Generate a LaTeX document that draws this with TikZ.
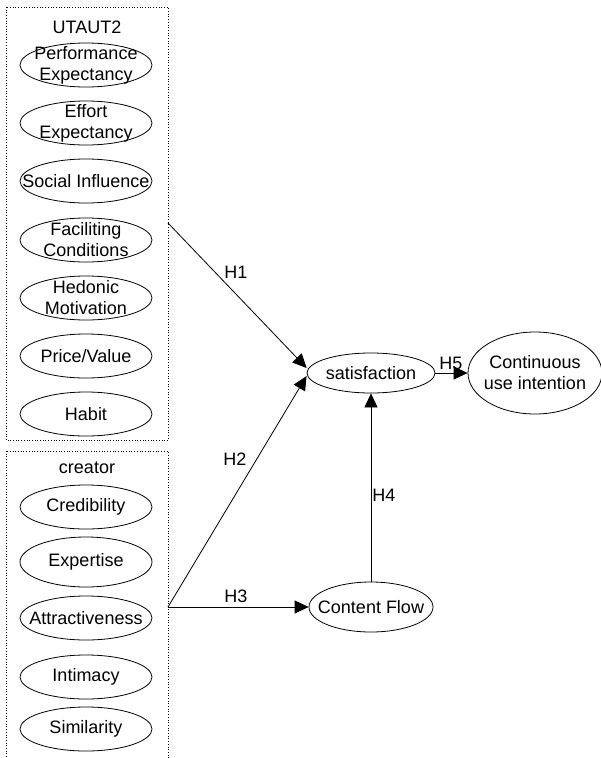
\documentclass[tikz,border=0pt]{standalone}
\usepackage{fontspec}
\setmainfont{Liberation Sans}
\usetikzlibrary{shapes.geometric}
\usetikzlibrary{arrows.meta}
\usetikzlibrary{positioning}

\tikzset{
	construct/.style={ellipse, draw, minimum width=132pt, minimum height=44pt,
		inner sep=-20pt, align=center},
	groupbox/.style={draw, dotted, line width=0.7pt},
	hyp/.style={-{Triangle[length=14pt,width=13pt]}},
}

\begin{document}
\begin{tikzpicture}[x=1pt, y=-1pt, line width=0.8pt,
		font=\fontsize{18}{21}\selectfont]
	\useasboundingbox (0,0) rectangle (601,758);
	% UTAUT2 group
	\draw[groupbox] (6,7) rectangle (168,440);
	\node (utaut) at (87,27) {UTAUT2};
	\node[construct] (pe) at (86,65) {Performance\\Expectancy};
	\node[construct] (ee) at (86,123) {Effort\\Expectancy};
	\node[construct] (si) at (86,181) {Social Influence};
	\node[construct] (fc) at (86,240) {Faciliting\\Conditions};
	\node[construct] (hm) at (86,298) {Hedonic\\Motivation};
	\node[construct] (pv) at (86,356) {Price/Value};
	\node[construct] (hb) at (86,414) {Habit};
	% creator group
	\draw[groupbox] (6,451) rectangle (168,780);
	\node (creator) at (87,468) {creator};
	\node[construct] (cred) at (86,507) {Credibility};
	\node[construct, minimum height=50pt] (exp) at (86,562) {Expertise};
	\node[construct] (attr) at (86,618) {Attractiveness};
	\node[construct] (inti) at (86,677) {Intimacy};
	\node[construct] (simi) at (86,729) {Similarity};
	% outcomes
	\node[construct, minimum width=128pt, minimum height=40pt] (sat) at (371,373) {satisfaction};
	\node[construct, minimum width=134pt, minimum height=82pt] (cui) at (535,373) {Continuous\\use intention};
	\node[construct, minimum width=124pt, minimum height=50pt] (cf) at (371,607) {Content Flow};
	% hypotheses
	\coordinate (h1s) at (168,223);
	\coordinate (h2s) at (168,607);
	\draw[hyp] (h1s) -- ([yshift=5pt]sat.west);
	\draw[hyp] (h2s) -- ([yshift=-3pt]sat.west);
	\draw[hyp] (h2s) -- (cf.west);
	\draw[hyp] (cf.north) -- (sat.south);
	\draw[hyp] (sat.east) -- (cui.west);
	\node (lh1) at (236,272) {H1};
	\node (lh2) at (235,459) {H2};
	\node (lh3) at (236,596) {H3};
	\node (lh4) at (384,495) {H4};
	\node (lh5) at (451,363) {H5};
\end{tikzpicture}
\end{document}
